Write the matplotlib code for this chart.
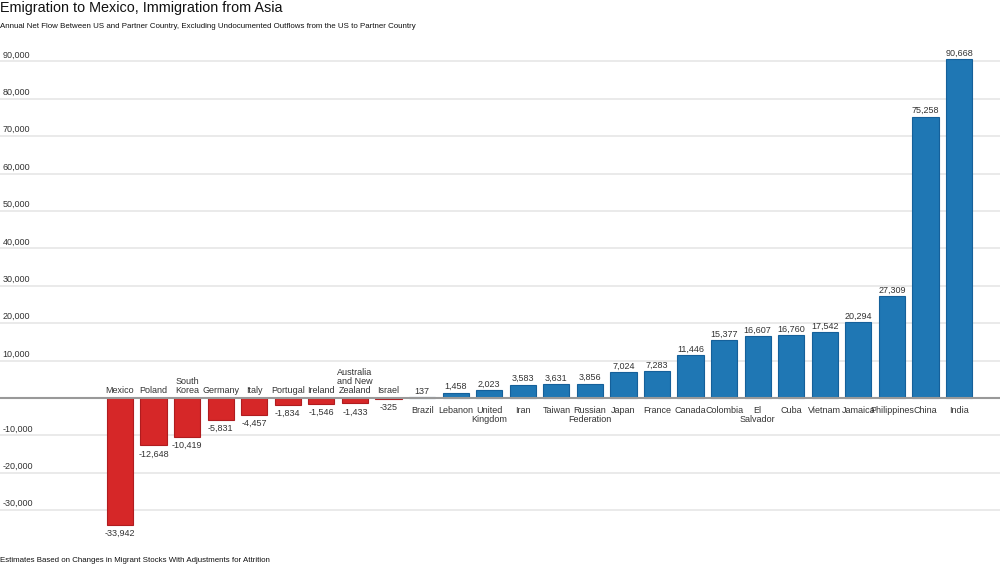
import matplotlib
matplotlib.use("Agg")
import matplotlib.pyplot as plt
import numpy as np

plt.rcParams['font.family'] = ['Liberation Sans', 'DejaVu Sans']

# datos
countries = ["Mexico", "Poland", "South\nKorea", "Germany", "Italy", "Portugal", "Ireland",
             "Australia\nand New\nZealand", "Israel", "Brazil", "Lebanon", "United\nKingdom",
             "Iran", "Taiwan", "Russian\nFederation", "Japan", "France", "Canada", "Colombia",
             "El\nSalvador", "Cuba", "Vietnam", "Jamaica", "Philippines", "China", "India"]
net_flow = [-33942, -12648, -10419, -5831, -4457, -1834, -1546, -1433, -325, 137, 1458, 2023,
            3583, 3631, 3856, 7024, 7283, 11446, 15377, 16607, 16760, 17542, 20294, 27309,
            75258, 90668]
y_ticks = [-30000, -20000, -10000, 10000, 20000, 30000, 40000, 50000, 60000, 70000, 80000, 90000]

red = "#d62728"
blue = "#1f77b4"
txt = "#333333"

fig = plt.figure(figsize=(10, 5.82), dpi=100)
ax = fig.add_axes([0, 1 - 540 / 582, 1, 500 / 582])

x = np.arange(len(countries))
colors = [red if v < 0 else blue for v in net_flow]
edges = ["#b01c1f" if v < 0 else "#15609a" for v in net_flow]
ax.bar(x, net_flow, width=0.78, color=colors, edgecolor=edges, linewidth=0.8, zorder=3)

ax.set_xlim(-3.576, 26.22)
ax.set_ylim(-37968, 95722)

# lineas de la grilla
for t in y_ticks:
    ax.axhline(t, color="#e8e8e8", linewidth=1.3, zorder=1)
    ax.annotate(f"{t:,}", xy=(0, t), xycoords=("axes fraction", "data"),
                xytext=(2, 1.5), textcoords="offset points", fontsize=6.5, color=txt,
                ha="left", va="bottom")
ax.axhline(0, color="#999999", linewidth=1.5, zorder=4)

for i, (c, v) in enumerate(zip(countries, net_flow)):
    if v >= 0:
        ax.annotate(f"{v:,}", xy=(i, v), xytext=(0, 1), textcoords="offset points",
                    ha="center", va="bottom", fontsize=6.5, color=txt)
        ax.annotate(c, xy=(i, 0), xytext=(0, -5.5), textcoords="offset points",
                    ha="center", va="top", fontsize=6.5, color=txt, linespacing=1.0)
    else:
        ax.annotate(f"{v:,}", xy=(i, v), xytext=(0, -3), textcoords="offset points",
                    ha="center", va="top", fontsize=6.5, color=txt)
        ax.annotate(c, xy=(i, 0), xytext=(0, 2.5), textcoords="offset points",
                    ha="center", va="bottom", fontsize=6.5, color=txt, linespacing=1.0)

ax.axis("off")

fig.text(0.0, 1 - 8 / 582, "Emigration to Mexico, Immigration from Asia", fontsize=10.4,
         ha="left", va="center", color="#111111")
fig.text(0.0, 1 - 26 / 582,
         "Annual Net Flow Between US and Partner Country, Excluding Undocumented Outflows from the US to Partner Country",
         fontsize=5.65, ha="left", va="center", color="#111111")
fig.text(0.0, 1 - 560 / 582, "Estimates Based on Changes in Migrant Stocks With Adjustments for Attrition",
         fontsize=5.7, ha="left", va="center", color="#111111")

fig.savefig("out.png", dpi=100)
